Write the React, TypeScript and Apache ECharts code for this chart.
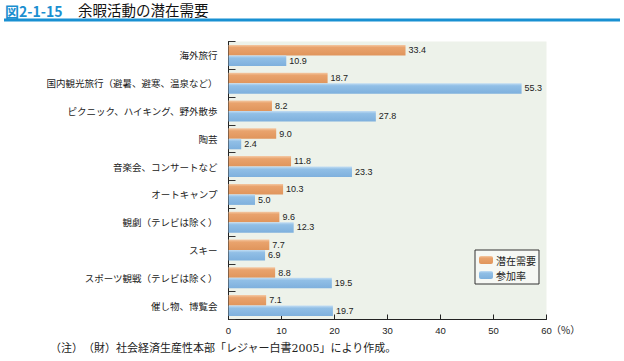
import React, { useEffect, useRef } from "react";
import * as echarts from "echarts";

const categories = [
  "海外旅行",
  "国内観光旅行（避暑、避寒、温泉など）",
  "ピクニック、ハイキング、野外散歩",
  "陶芸",
  "音楽会、コンサートなど",
  "オートキャンプ",
  "観劇（テレビは除く）",
  "スキー",
  "スポーツ観戦（テレビは除く）",
  "催し物、博覧会",
];
const latentDemand = [33.4, 18.7, 8.2, 9.0, 11.8, 10.3, 9.6, 7.7, 8.8, 7.1];
const participation = [10.9, 55.3, 27.8, 2.4, 23.3, 5.0, 12.3, 6.9, 19.5, 19.7];
const seriesNames = ["潜在需要", "参加率"];
const xTicks = [0, 10, 20, 30, 40, 50, 60];

const FONT = "'Noto Sans CJK JP', 'Noto Sans', sans-serif";

export default function App() {
  const ref = useRef<HTMLDivElement>(null);
  useEffect(() => {
    document.body.style.margin = "0";
    if (!ref.current) return;
    const chart = echarts.init(ref.current, null, { renderer: "svg" });
    const orange = new echarts.graphic.LinearGradient(0, 0, 0, 1, [
      { offset: 0, color: "#f4c9a4" },
      { offset: 0.25, color: "#e9a36d" },
      { offset: 1, color: "#e0955c" },
    ]);
    const blue = new echarts.graphic.LinearGradient(0, 0, 0, 1, [
      { offset: 0, color: "#c2ddf3" },
      { offset: 0.25, color: "#91bfe6" },
      { offset: 1, color: "#7eb0dd" },
    ]);
    const labelCfg = {
      show: true,
      position: "right" as const,
      distance: 3,
      fontSize: 9,
      color: "#222",
      fontFamily: "'Liberation Sans', Arial, sans-serif",
      formatter: (p: any) => Number(p.value).toFixed(1),
    };
    chart.setOption({
      animation: false,
      backgroundColor: "#fff",
      grid: {
        left: 228.5,
        right: 77.5,
        top: 41.5,
        bottom: 41.5,
        show: true,
        backgroundColor: "#edf2ea",
        borderWidth: 0,
      },
      legend: {
        orient: "vertical",
        left: 475,
        top: 250,
        itemWidth: 14,
        itemHeight: 8,
        itemGap: 3,
        padding: [4, 3, 3, 4],
        borderColor: "#333",
        borderWidth: 1,
        backgroundColor: "#f6f8f4",
        textStyle: { fontSize: 10, color: "#222", fontFamily: FONT, lineHeight: 12, padding: [0, 0, 0, -2] },
        data: seriesNames,
      },
      xAxis: {
        type: "value",
        min: 0,
        max: 60,
        interval: 10,
        axisLine: { show: true, lineStyle: { color: "#222", width: 1 } },
        axisTick: { show: true, inside: true, length: 5, lineStyle: { color: "#222" } },
        splitLine: { show: false },
        axisLabel: {
          fontSize: 9.5,
          color: "#222",
          margin: 6,
          fontFamily: "'Liberation Sans', Arial, sans-serif",
          formatter: (v: number) => (xTicks.includes(v) ? String(v) : ""),
        },
      },
      yAxis: {
        type: "category",
        inverse: true,
        data: categories,
        axisLine: { show: true, lineStyle: { color: "#222", width: 1 } },
        axisTick: { show: true, inside: true, length: 7, lineStyle: { color: "#333" } },
        axisLabel: { fontSize: 9.5, color: "#222", margin: 11, fontFamily: FONT },
      },
      series: [
        {
          name: seriesNames[0],
          type: "bar",
          data: latentDemand,
          barWidth: 10.5,
          barGap: "0%",
          itemStyle: { color: orange },
          label: labelCfg,
        },
        {
          name: seriesNames[1],
          type: "bar",
          data: participation,
          barWidth: 10.5,
          barGap: "0%",
          itemStyle: { color: blue },
          label: labelCfg,
        },
      ],
      graphic: [
        {
          type: "text",
          left: 5,
          top: 3.5,
          style: { text: "図2-1-15", fontSize: 14, fontWeight: "bold", fill: "#1a8fd0", fontFamily: FONT },
        },
        {
          type: "text",
          left: 78,
          top: 2,
          style: { text: "余暇活動の潜在需要", fontSize: 14.5, fill: "#111", fontFamily: FONT },
        },
        {
          type: "rect",
          shape: { x: 4, y: 18.5, width: 616, height: 3 },
          style: { fill: "#1990d2" },
        },
        {
          type: "text",
          left: 551,
          top: 324,
          style: { text: "（%）", fontSize: 10, fill: "#222", fontFamily: FONT },
        },
        {
          type: "text",
          left: 50,
          top: 343,
          style: {
            text: "（注）　（財）社会経済生産性本部「レジャー白書2005」により作成。",
            fontSize: 11,
            fill: "#222",
            fontFamily: "'DejaVu Serif', 'Noto Sans CJK JP', serif",
          },
        },
      ],
    });
    return () => chart.dispose();
  }, []);
  return (
    <div
      ref={ref}
      style={{ width: 624, height: 361, position: "fixed", left: 0, top: 0 }}
    />
  );
}
